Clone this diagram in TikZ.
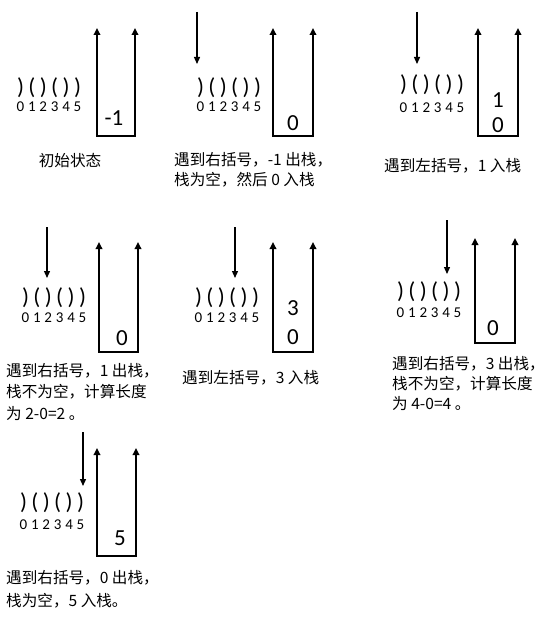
\documentclass[tikz,border=0pt]{standalone}
\usepackage{fontspec}
\setmainfont{Carlito}
\newfontfamily\cjk{Noto Sans CJK SC}
\usetikzlibrary{arrows.meta}

% brackets and their indices: name, x of first char, y of brackets, y of indices
\newcommand{\seq}[4]{%
  \foreach \c [count=\i from 0] in {{)},{(},{)},{(},{)},{)}}
    \node[paren] (#1-\i) at (#2+11.4*\i,#3) {\c};
  \foreach \i in {0,...,5}
    \node[index] (#1-n\i) at (#2+11.4*\i,#4) {\i};
}

\begin{document}
\begin{tikzpicture}[x=1pt,y=-1pt,
    wall/.style={line width=1.7pt,{Triangle[length=7pt,width=6.5pt]}-{Triangle[length=7pt,width=6.5pt]}},
    pointer/.style={line width=1.3pt,-{Triangle[length=7pt,width=6pt]}},
    paren/.style={font=\fontsize{23}{23}\selectfont,inner sep=0pt},
    index/.style={font=\fontsize{15}{15}\selectfont,inner sep=0pt},
    item/.style={font=\fontsize{23}{23}\selectfont,inner sep=0pt},
    note/.style={font=\cjk\fontsize{15.6}{#1}\selectfont,align=left,inner sep=0pt,anchor=north west}]
  \useasboundingbox (0,0) rectangle (544,620);

  % initial state
  \seq{a}{20.5}{88}{107}
  \draw[wall] (97,28) coordinate (a-tl) -- (97,136) coordinate (a-bl) -- (135,136) coordinate (a-br) -- (135,28) coordinate (a-tr);
  \node[item] (a-s0) at (114,118) {-1};
  \node[note=20,anchor=north] (a-txt) at (70,153) {初始状态};

  % index 0
  \seq{b}{200.5}{88}{107}
  \coordinate (b-p) at (197,12);
  \coordinate (b-q) at (197,64);
  \draw[pointer] (b-p) -- (b-q);
  \draw[wall] (273,28) coordinate (b-tl) -- (273,136) coordinate (b-bl) -- (313,136) coordinate (b-br) -- (313,28) coordinate (b-tr);
  \node[item] (b-s0) at (293,123) {0};
  \node[note=20] (b-txt) at (174,152) {遇到右括号，-1 出栈，\\栈为空，然后 0 入栈};

  % index 1
  \seq{c}{403.5}{85}{108}
  \coordinate (c-p) at (417,12);
  \coordinate (c-q) at (417,64);
  \draw[pointer] (c-p) -- (c-q);
  \draw[wall] (478,28) coordinate (c-tl) -- (478,136) coordinate (c-bl) -- (518,136) coordinate (c-br) -- (518,28) coordinate (c-tr);
  \node[item] (c-s1) at (498,100) {1};
  \node[item] (c-s0) at (498,125) {0};
  \node[note=20] (c-txt) at (384,158) {遇到左括号，1 入栈};

  % index 2
  \seq{d}{25.5}{298}{318}
  \coordinate (d-p) at (47,227);
  \coordinate (d-q) at (47,278);
  \draw[pointer] (d-p) -- (d-q);
  \draw[wall] (99,242) coordinate (d-tl) -- (99,352) coordinate (d-bl) -- (138,352) coordinate (d-br) -- (138,242) coordinate (d-tr);
  \node[item] (d-s0) at (122,338) {0};
  \node[note=21.5] (d-txt) at (6,363) {遇到右括号，1 出栈，\\栈不为空，计算长度\\为 2-0=2 。};

  % index 3
  \seq{e}{198.5}{298}{318}
  \coordinate (e-p) at (235,227);
  \coordinate (e-q) at (235,278);
  \draw[pointer] (e-p) -- (e-q);
  \draw[wall] (273,242) coordinate (e-tl) -- (273,352) coordinate (e-bl) -- (313,352) coordinate (e-br) -- (313,242) coordinate (e-tr);
  \node[item] (e-s1) at (293,308) {3};
  \node[item] (e-s0) at (293,337) {0};
  \node[note=20] (e-txt) at (182,370) {遇到左括号，3 入栈};

  % index 4
  \seq{f}{400.5}{292}{313}
  \coordinate (f-p) at (447,220);
  \coordinate (f-q) at (447,274);
  \draw[pointer] (f-p) -- (f-q);
  \draw[wall] (475,238) coordinate (f-tl) -- (475,343) coordinate (f-bl) -- (515,343) coordinate (f-br) -- (515,238) coordinate (f-tr);
  \node[item] (f-s0) at (493,328) {0};
  \node[note=20] (f-txt) at (392,356) {遇到右括号，3 出栈，\\栈不为空，计算长度\\为 4-0=4 。};

  % index 5
  \seq{g}{23.5}{503}{525}
  \coordinate (g-p) at (83,432);
  \coordinate (g-q) at (83,486);
  \draw[pointer] (g-p) -- (g-q);
  \draw[wall] (97,448) coordinate (g-tl) -- (97,556) coordinate (g-bl) -- (136,556) coordinate (g-br) -- (136,448) coordinate (g-tr);
  \node[item] (g-s0) at (120,538) {5};
  \node[note=23] (g-txt) at (6,570) {遇到右括号，0 出栈，\\栈为空，5 入栈。};
\end{tikzpicture}
\end{document}
